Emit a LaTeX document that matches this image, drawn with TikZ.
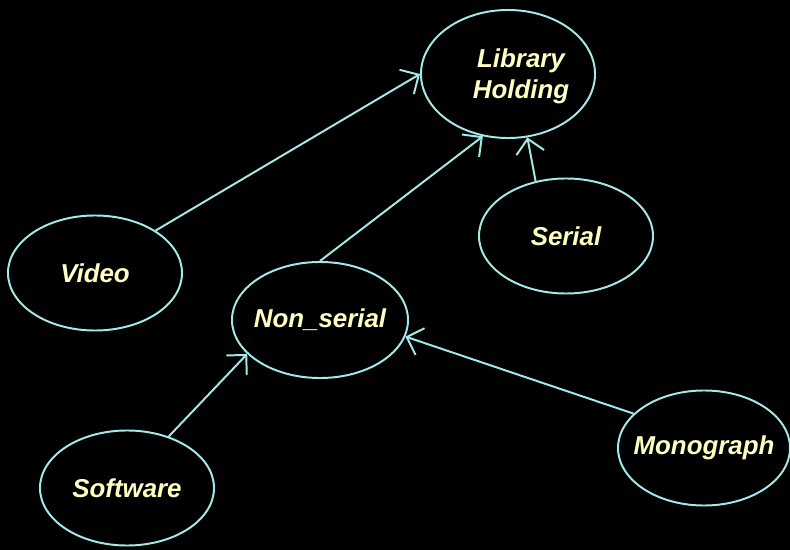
\documentclass[tikz,border=0pt]{standalone}
\usepackage{fontspec}
\setmainfont{Liberation Sans}
\usetikzlibrary{shapes.geometric,arrows.meta}
\definecolor{rim}{RGB}{165,232,232}
\definecolor{cream}{RGB}{255,255,195}
\tikzset{
	bubble/.style={ellipse, draw=rim, line width=1.4pt, inner xsep=-2cm, inner ysep=-1cm,
		minimum width=4.35cm, minimum height=2.875cm, text=cream,
		font=\fontsize{18.4}{22}\selectfont\bfseries\itshape},
	isa/.style={draw=rim, line width=1.4pt,
		-{Straight Barb[length=10pt, width=20pt, line width=1.4pt]}}
}
\begin{document}
\begin{tikzpicture}[x=0.025cm, y=-0.025cm]
	% Hintergrund
	\useasboundingbox (0, 0) rectangle (790, 550);
	\fill[black] (0, 0) rectangle (790, 550);
	% Klassen
	\node[bubble, minimum height=3.2cm,
		label={[name=holdingtext, text=cream, align=center, xshift=13*0.025cm, yshift=-2*0.025cm,
		font=\fontsize{18.4}{22}\selectfont\bfseries\itshape]center:Library\\Holding}]
		(holding) at (508, 74) {};
	\node[bubble] (serial) at (566, 236) {Serial};
	\node[bubble] (video) at (95, 273) {Video};
	\node[bubble, minimum width=4.4cm, minimum height=2.9cm] (nonserial) at (320, 320) {Non\_serial};
	\node[bubble, minimum width=4.3cm] (monograph) at (704, 448) {Monograph};
	\node[bubble] (software) at (127, 488) {Software};
	% Vererbung
	\draw[isa] (video.35) -- (holding.west);
	\draw[isa] (nonserial.north) -- (holding.248);
	\draw[isa] (serial.119) -- (holding.287);
	\draw[isa] (software.51) -- (nonserial.205);
	\draw[isa] (monograph.154) -- (nonserial.349);
\end{tikzpicture}
\end{document}
